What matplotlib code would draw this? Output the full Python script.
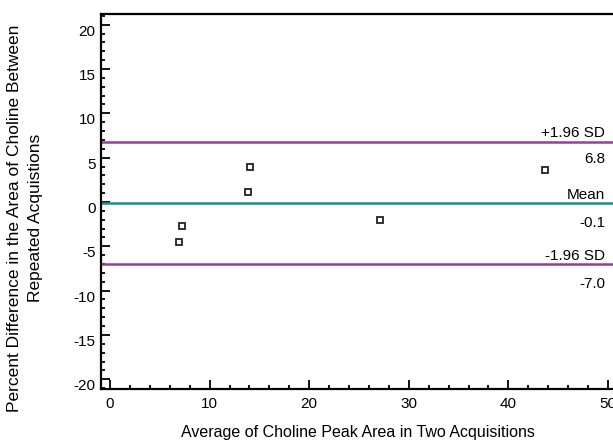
import matplotlib
matplotlib.use("Agg")
import matplotlib.pyplot as plt
import matplotlib.ticker as mticker
import matplotlib.transforms as mtransforms
import numpy as np

plt.rcParams['font.family'] = ['Liberation Sans', 'DejaVu Sans']
plt.rcParams['axes.unicode_minus'] = False

# data
avg_area = [6.9, 7.2, 13.9, 14.1, 27.1, 43.7]
pct_diff = [-4.5, -2.7, 1.1, 3.9, -2.0, 3.6]
mean_diff = -0.1
upper_loa = 6.8
lower_loa = -7.0

fig = plt.figure(figsize=(6.13, 4.45), dpi=100)
ax = fig.add_axes([0.1648, 0.1258, 0.8352, 0.8427])

ax.plot(avg_area, pct_diff, linestyle="none", marker="s", markersize=5,
        markerfacecolor="white", markeredgecolor="#222222", markeredgewidth=1.3,
        zorder=3)

purple = "#9a3d9a"
teal = "#1a8f8f"
ax.axhline(upper_loa, color=purple, linewidth=1.8)
ax.axhline(mean_diff, color=teal, linewidth=1.8)
ax.axhline(lower_loa, color=purple, linewidth=1.8)

# labels for the lines
xr = 49.7
fs = 11
ax.text(xr, upper_loa + 0.15, "+1.96 SD", ha="right", va="bottom", fontsize=fs)
ax.text(xr, upper_loa - 1.9, "%.1f" % upper_loa, ha="right", va="center", fontsize=fs)
ax.text(xr, mean_diff + 0.15, "Mean", ha="right", va="bottom", fontsize=fs)
ax.text(xr, mean_diff - 2.3, "%.1f" % mean_diff, ha="right", va="center", fontsize=fs)
ax.text(xr, lower_loa + 0.15, "-1.96 SD", ha="right", va="bottom", fontsize=fs)
ax.text(xr, lower_loa - 2.3, "%.1f" % lower_loa, ha="right", va="center", fontsize=fs)

ax.set_xlim(-0.9, 50.5)
ax.set_ylim(-21.1, 21.2)

ax.xaxis.set_major_locator(mticker.MultipleLocator(10))
ax.xaxis.set_minor_locator(mticker.MultipleLocator(2))
ax.yaxis.set_major_locator(mticker.MultipleLocator(5))
ax.yaxis.set_minor_locator(mticker.MultipleLocator(1))
ax.set_yticks(np.arange(-20, 21, 5))

ax.tick_params(which="both", direction="in", width=1.3, colors="black")
ax.tick_params(which="major", length=6.5, labelsize=fs)
ax.tick_params(which="minor", length=3)
ax.tick_params(axis="x", which="major", pad=6)
ax.tick_params(axis="y", which="major", pad=4)

for s in ["left", "bottom", "top"]:
    ax.spines[s].set_linewidth(1.6)
ax.spines["right"].set_visible(False)

# y tick labels sit a little below their ticks
off = mtransforms.ScaledTranslation(0, -4 / 72, fig.dpi_scale_trans)
for lab in ax.get_yticklabels():
    lab.set_transform(lab.get_transform() + off)

fig.text(0.584, 0.012, "Average of Choline Peak Area in Two Acquisitions",
         ha="center", va="bottom", fontsize=11.5)
fig.text(0.041, 0.51, "Percent Difference in the Area of Choline Between\nRepeated Acquistions",
         ha="center", va="center", rotation=90, fontsize=12.5, linespacing=1.45,
         multialignment="center")

fig.savefig("out.png", dpi=100)
